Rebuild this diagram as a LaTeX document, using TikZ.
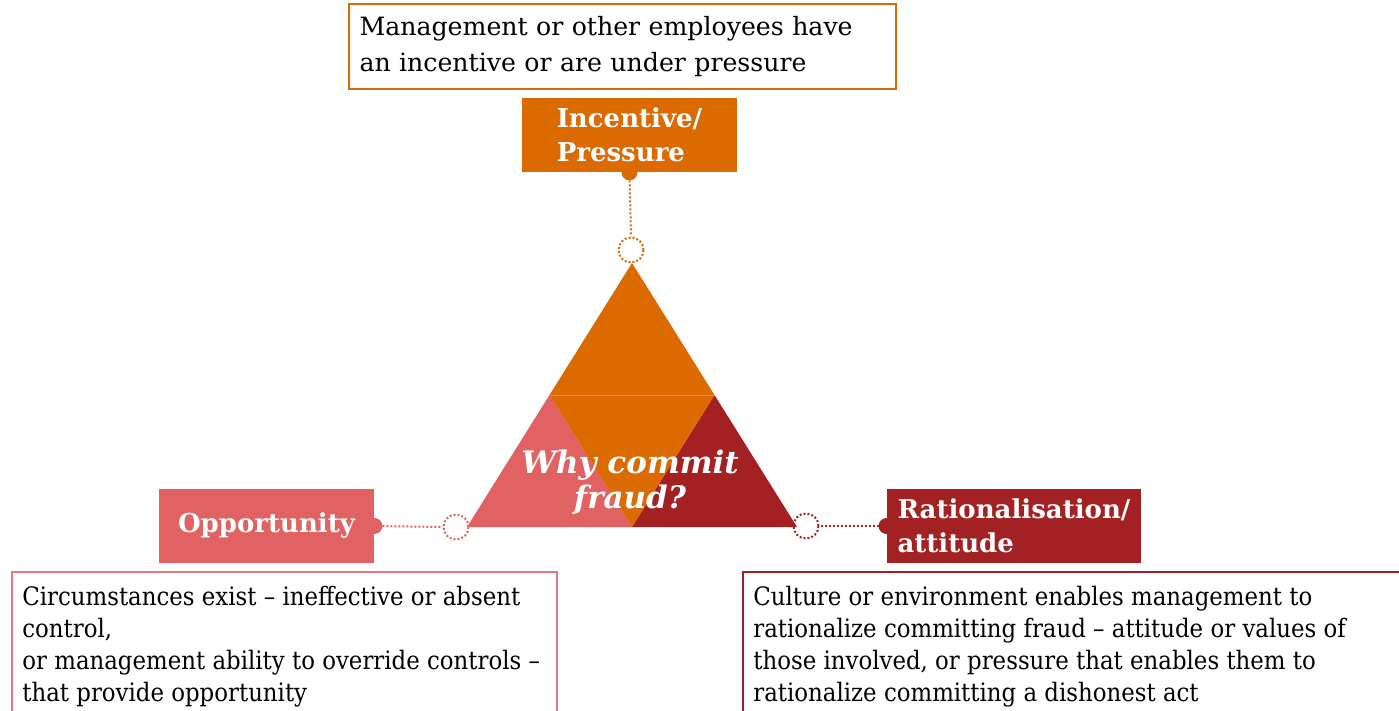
\documentclass[tikz,border=0pt]{standalone}
\usepackage{fontspec}
\setmainfont{DejaVu Serif}
\newfontfamily\narrowserif{DejaVu Serif}[FakeStretch=0.9]
\usepackage{xcolor}
\usepackage{tikz}
\usetikzlibrary{arrows.meta,calc}

\definecolor{pressorange}{RGB}{219,106,0}
\definecolor{opppink}{RGB}{224,98,98}
\definecolor{ratred}{RGB}{163,32,35}

\tikzset{
  tag/.style={fill=#1, text=white, align=left, inner sep=0pt,
    minimum height=37pt, font=\bfseries\fontsize{13}{17}\selectfont},
  note/.style={draw=#1, line width=1pt},
  notetext/.style={anchor=north west, align=left, inner sep=0pt,
    font=\narrowserif\fontsize{12.7}{16}\selectfont},
  tab/.style={circle, fill=#1, inner sep=0pt, minimum size=8pt},
  ring/.style={circle, draw=#1, line width=1pt, dash pattern=on 1pt off 1pt,
    inner sep=0pt, minimum size=12.5pt},
  dots/.style={draw=#1, line width=1pt, dash pattern=on 1pt off 1pt}
}

\begin{document}
\begin{tikzpicture}[x=0.5pt, y=-0.5pt]
\useasboundingbox (0,0) rectangle (1399,711);
\clip (0,0) rectangle (1399,711);

% the triangle
\coordinate (apex) at (632,263);
\coordinate (bl) at (467,527);
\coordinate (br) at (797,527);
\coordinate (bm) at (632,527);
\coordinate (ml) at ($(apex)!0.5!(bl)$);
\coordinate (mr) at ($(apex)!0.5!(br)$);
\fill[pressorange] (apex) -- (ml) -- (mr) -- cycle;
\fill[opppink] (ml) -- (bl) -- (bm) -- cycle;
\fill[ratred] (mr) -- (bm) -- (br) -- cycle;
\fill[pressorange] (ml) -- (mr) -- (bm) -- cycle;
\draw[pressorange!75!white, line width=0.4pt] (ml) -- (mr);
\node[text=white, align=center, font=\bfseries\itshape\fontsize{15.5}{17.5}\selectfont] (why) at (630,482) {Why commit\\fraud?};

% the three labels
\node[tag=pressorange, minimum width=107.5pt] (press) at (629.5,135) {Incentive/\\Pressure};
\node[tag=opppink, minimum width=107.5pt] (opp) at (266.5,526) {Opportunity};
\node[tag=ratred, minimum width=127pt] (rat) at (1014,526) {Rationalisation/\\attitude};

\node[ring=pressorange] (pressring) at (631,250) {};
\node[ring=opppink] (oppring) at (456,527) {};
\node[ring=ratred] (ratring) at (806,526) {};

\draw[dots=pressorange] (press.south) -- (pressring.north);
\draw[dots=opppink] (opp.east) -- (oppring.west);
\draw[dots=ratred] (rat.west) -- (ratring.east);

\node[tab=pressorange] (presstab) at (press.south) {};
\node[tab=opppink] (opptab) at (opp.east) {};
\node[tab=ratred] (rattab) at (rat.west) {};

% explanations
\node[note=pressorange, anchor=north west, align=left, minimum width=273.5pt,
  minimum height=42.5pt, text width=263pt, inner xsep=5pt,
  font=\fontsize{12.6}{18}\selectfont] (pressnote) at (348,3)
  {Management or other employees have\\an incentive or are under pressure};

\draw[note=opppink!85!white] (12,572) rectangle (557,760);
\node[notetext] (oppnote) at (22,586)
  {Circumstances exist – ineffective or absent\\control,\\or management ability to override controls –\\that provide opportunity};

\draw[note=ratred] (743,572) rectangle (1420,760);
\node[notetext] (ratnote) at (753,586)
  {Culture or environment enables management to\\rationalize committing fraud – attitude or values of\\those involved, or pressure that enables them to\\rationalize committing a dishonest act};
\end{tikzpicture}
\end{document}
